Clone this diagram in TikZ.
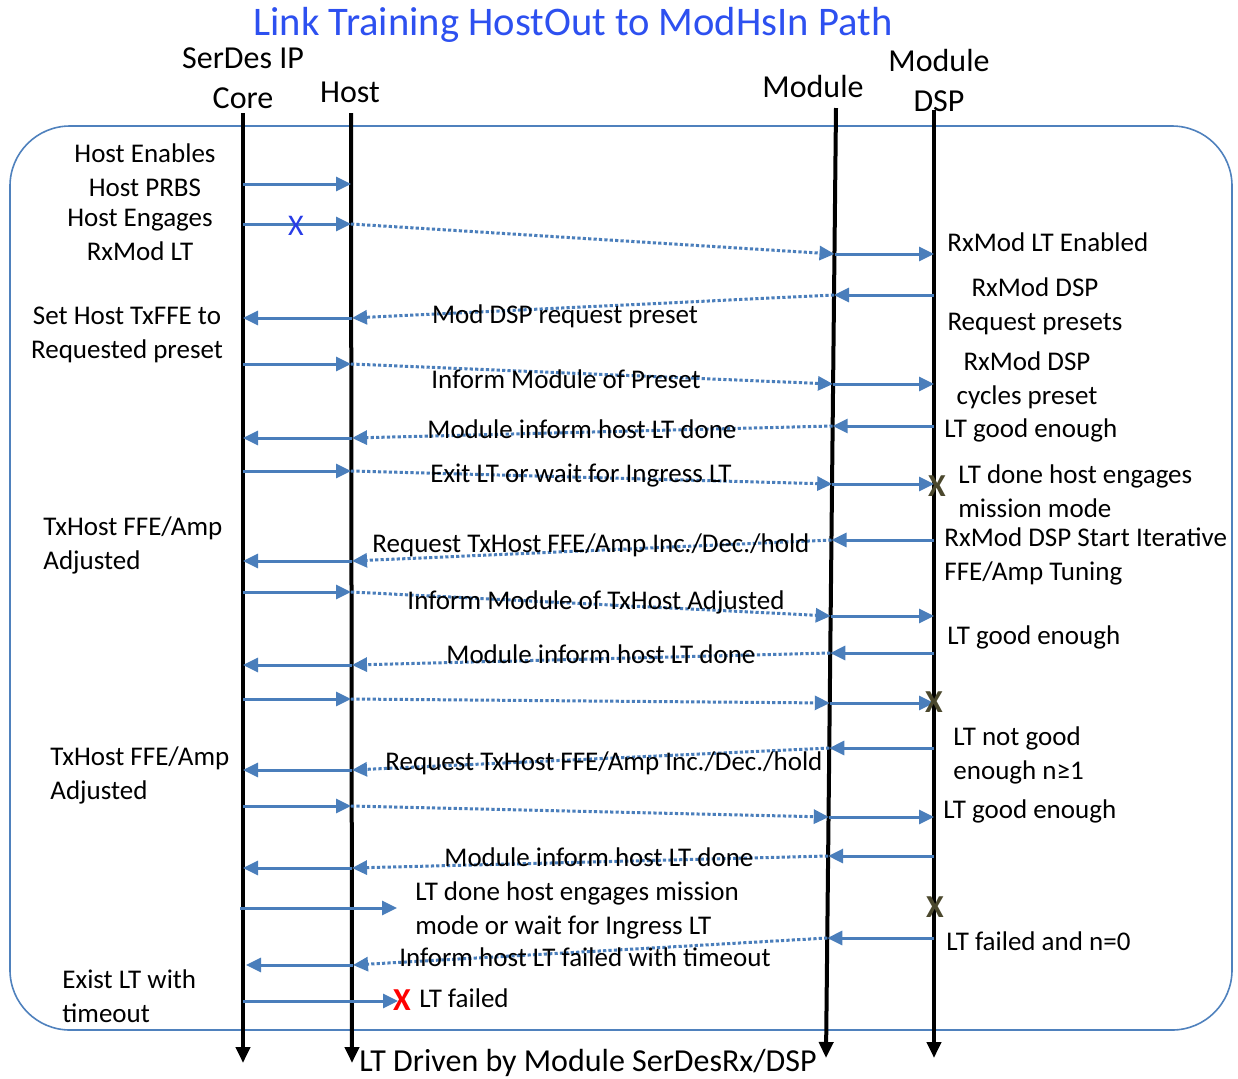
\documentclass[tikz,border=0pt]{standalone}
\usepackage{fontspec}
\setmainfont{Carlito}
\usetikzlibrary{arrows.meta}
\definecolor{arrowblue}{RGB}{74,126,187}
\definecolor{frameblue}{RGB}{79,129,189}
\definecolor{titleblue}{RGB}{45,80,240}
\definecolor{markblue}{RGB}{40,60,230}
\definecolor{markdark}{RGB}{75,72,45}
\tikzset{
  msg/.style={draw=arrowblue, line width=1.5pt, -{Triangle[length=7.5pt,width=7pt]}},
  dmsg/.style={msg, dash pattern=on 1.6pt off 1.1pt},
  life/.style={draw=black, line width=2pt, -{Triangle[length=8pt,width=7pt]}},
  txt/.style={inner sep=0pt, font=\fontsize{13.5}{17}\selectfont},
  hdr/.style={inner sep=0pt, align=center, font=\fontsize{16}{19}\selectfont},
  xmark/.style={inner sep=0pt, font=\fontsize{16}{16}\selectfont\bfseries},
}
\begin{document}
\begin{tikzpicture}[x=0.5pt, y=-0.5pt]
\useasboundingbox (0,0) rectangle (1238,1078);

% frame
\draw[frameblue, line width=0.8pt, rounded corners=30pt] (10,126) rectangle (1232,1030);

% title and headers
\node[inner sep=0pt, text=titleblue, font=\fontsize{20.3}{22}\selectfont] (title) at (573,25) {Link Training HostOut to ModHsIn Path};
\node[hdr] (hcore) at (243,78) {SerDes IP\\[1pt]Core};
\node[hdr] (hhost) at (350,92) {Host};
\node[hdr] (hmod) at (813,86) {Module};
\node[hdr] (hdsp) at (939,80) {Module\\[1pt]DSP};
\node[hdr] (foot) at (588,1063) {LT Driven by Module SerDesRx/DSP};

% lifelines
\coordinate (coreT) at (243,113);  \coordinate (coreB) at (243,1063);
\coordinate (hostT) at (351,113);  \coordinate (hostB) at (352,1063);
\coordinate (modT)  at (836,108);  \coordinate (modB)  at (826,1058);
\coordinate (dspT)  at (934,110);  \coordinate (dspB)  at (934,1058);
\draw[life] (coreT) -- (coreB);
\draw[life] (hostT) -- (hostB);
\draw[life] (modT) -- (modB);
\draw[life] (dspT) -- (dspB);

% messages
\draw[msg] (243,184) -- (351,184);

\draw[msg] (243,224) -- (351,224);
\draw[dmsg] (351,224) -- (834.5,254);
\draw[msg] (834.5,254) -- (934,254);

\draw[msg] (934,295) -- (834,295);
\draw[dmsg] (834,295) -- (352,318);
\draw[msg] (352,318) -- (243,318);

\draw[msg] (243,364) -- (351,364);
\draw[dmsg] (351,364) -- (833,384);
\draw[msg] (833,384) -- (934,384);

\draw[msg] (934,426) -- (832.7,426);
\draw[dmsg] (832.7,426) -- (352,438);
\draw[msg] (352,438) -- (243,438);

\draw[msg] (243,471) -- (351,471);
\draw[dmsg] (351,471) -- (832.2,484);
\draw[msg] (832.2,484) -- (934,484);

\draw[msg] (934,540) -- (831.5,540);
\draw[dmsg] (831.5,540) -- (352,561);
\draw[msg] (352,561) -- (243,561);

\draw[msg] (243,592) -- (351,592);
\draw[dmsg] (351,592) -- (830.7,616);
\draw[msg] (830.7,616) -- (934,616);

\draw[msg] (934,653) -- (830.3,653);
\draw[dmsg] (830.3,653) -- (352,665);
\draw[msg] (352,665) -- (243,665);

\draw[msg] (243,699) -- (351,699);
\draw[dmsg] (351,699) -- (829.8,703);
\draw[msg] (829.8,703) -- (934,703);

\draw[msg] (934,748) -- (829.3,748);
\draw[dmsg] (829.3,748) -- (352,770);
\draw[msg] (352,770) -- (243,770);

\draw[msg] (243,806) -- (351,806);
\draw[dmsg] (351,806) -- (828.8,817);
\draw[msg] (828.8,817) -- (934,817);

\draw[msg] (934,856) -- (828.1,856);
\draw[dmsg] (828.1,856) -- (352,868);
\draw[msg] (352,868) -- (243,868);

\coordinate (fwdA) at (240,908);
\coordinate (fwdB) at (397,908);
\draw[msg] (fwdA) -- (fwdB);

\draw[msg] (934,938) -- (827.3,938);
\draw[dmsg] (827.3,938) -- (353,965);
\draw[msg] (353,965) -- (246,965);

\coordinate (failA) at (243,1001);
\coordinate (failB) at (398,1001);
\draw[msg] (failA) -- (failB);

% markers
\node[xmark, text=markblue, font=\fontsize{15}{15}\selectfont] (x1) at (296,226) {X};
\node[xmark, text=markdark] (x2) at (937,486) {X};
\node[xmark, text=markdark] (x3) at (934,702) {X};
\node[xmark, text=markdark] (x4) at (935,907) {X};
\node[xmark, text=red] (x5) at (402,1000) {X};

% left-hand notes
\node[txt, align=center] (n1) at (145,170) {Host Enables\\Host PRBS};
\node[txt, align=center] (n2) at (140,235) {Host Engages\\RxMod LT};
\node[txt, align=center] (n3) at (127,335) {Set Host TxFFE to\\Requested preset};
\node[txt, align=left, anchor=west] (n4) at (43,545) {TxHost FFE/Amp\\Adjusted};
\node[txt, align=left, anchor=west] (n5) at (50,775) {TxHost FFE/Amp\\Adjusted};
\node[txt, align=left, anchor=west] (n6) at (62,996) {Exist LT with\\timeout};

% right-hand notes
\node[txt, anchor=west] (r1) at (947,242) {RxMod LT Enabled};
\node[txt, align=center] (r2) at (1035,306) {RxMod DSP\\Request presets};
\node[txt, align=center] (r3) at (1027,380) {RxMod DSP\\cycles preset};
\node[txt, anchor=west] (r4) at (944,430) {LT good enough};
\node[txt, align=left, anchor=west] (r5) at (958,491) {LT done host engages\\mission mode};
\node[txt, align=left, anchor=west] (r6) at (944,556) {RxMod DSP Start Iterative\\FFE/Amp Tuning};
\node[txt, anchor=west] (r7) at (947,637) {LT good enough};
\node[txt, align=left, anchor=west] (r8) at (953,755) {LT not good\\enough n≥1};
\node[txt, anchor=west] (r9) at (943,811) {LT good enough};
\node[txt, anchor=west] (r10) at (946,941) {LT failed and n=0};

% message labels
\node[txt] (l1) at (565,316) {Mod DSP request preset};
\node[txt] (l2) at (566,379) {Inform Module of Preset};
\node[txt] (l3) at (582,429) {Module inform host LT done};
\node[txt] (l4) at (581,476) {Exit LT or wait for Ingress LT};
\node[txt] (l5) at (591,545) {Request TxHost FFE/Amp Inc./Dec./hold};
\node[txt] (l6) at (596,602) {Inform Module of TxHost Adjusted};
\node[txt] (l7) at (601,654) {Module inform host LT done};
\node[txt] (l8) at (604,763) {Request TxHost FFE/Amp Inc./Dec./hold};
\node[txt] (l9) at (599,857) {Module inform host LT done};
\node[txt, align=left, anchor=west] (l10) at (415,910) {LT done host engages mission\\mode or wait for Ingress LT};
\node[txt] (l11) at (585,957) {Inform host LT failed with timeout};
\node[txt, anchor=west] (l12) at (419,998) {LT failed};
\end{tikzpicture}
\end{document}
